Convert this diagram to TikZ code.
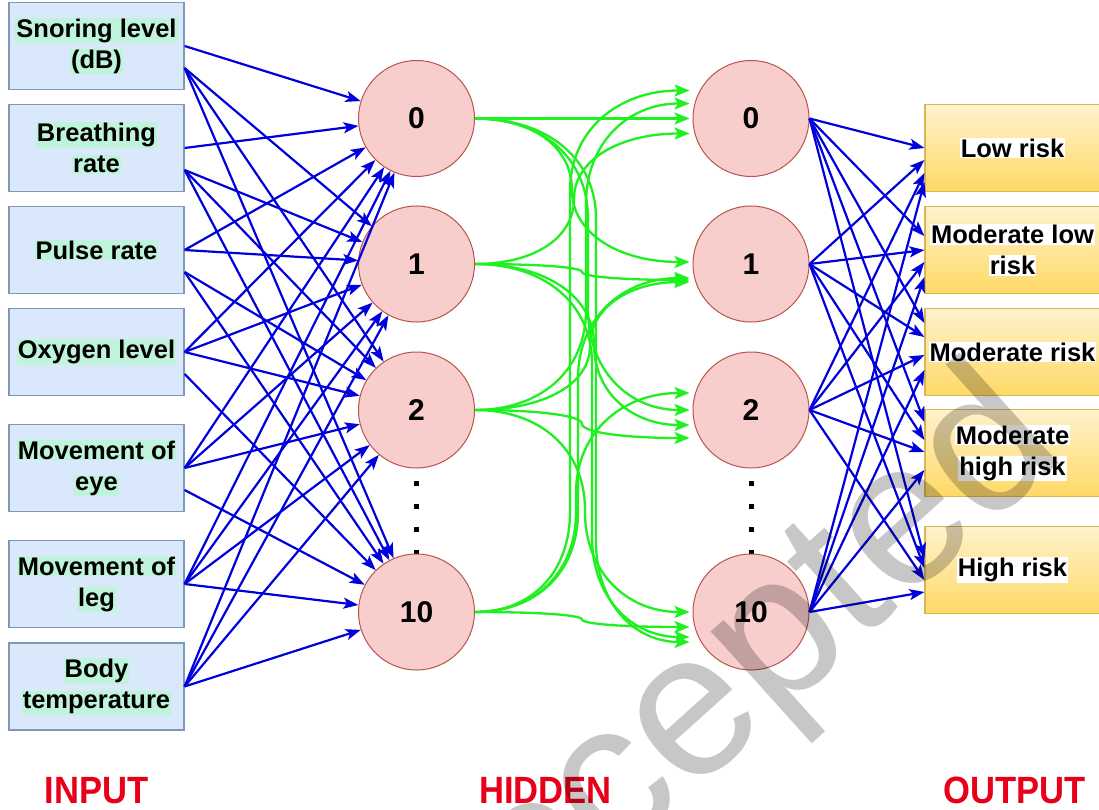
\documentclass[tikz,border=0pt]{standalone}
\usepackage{fontspec}
\setmainfont{Liberation Sans}
\usetikzlibrary{arrows.meta,calc}

\definecolor{inFill}{HTML}{DAE8FC}
\definecolor{inLine}{HTML}{7F97B8}
\definecolor{mintBg}{HTML}{BFF3DA}
\definecolor{nodeFill}{HTML}{F8CECC}
\definecolor{nodeLine}{HTML}{B85450}
\definecolor{outTop}{HTML}{FFF2CC}
\definecolor{outBot}{HTML}{FFD966}
\definecolor{outLine}{HTML}{D6B656}
\definecolor{linkBlue}{HTML}{0000DD}
\definecolor{linkGreen}{HTML}{1FF01F}
\definecolor{capRed}{HTML}{E8001A}

% highlighted label line
\newcommand\hlline[2]{{\setlength{\fboxsep}{1pt}\colorbox{#1}{#2}}}

\begin{document}
\begin{tikzpicture}[x=1pt,y=-1pt,
  inbox/.style={draw=inLine, fill=inFill, line width=1.2pt,
    minimum width=175pt, minimum height=87pt, inner sep=0pt, align=center,
    font=\fontsize{25.5}{31}\selectfont\bfseries},
  outbox/.style={draw=outLine, top color=outTop, bottom color=outBot, line width=1.2pt,
    minimum width=175pt, minimum height=87pt, inner sep=0pt, align=center,
    font=\fontsize{25.5}{31}\selectfont\bfseries},
  neuron/.style={circle, draw=nodeLine, fill=nodeFill, line width=1pt,
    minimum size=116pt, inner sep=0pt, font=\fontsize{30}{30}\selectfont\bfseries},
  vdot/.style={rectangle, fill=black, minimum size=5pt, inner sep=0pt},
  bluelink/.style={draw=linkBlue, line width=2.2pt,
    -{Stealth[length=15pt,width=11pt,inset=3.5pt]}},
  greenlink/.style={draw=linkGreen, line width=2.3pt,
    -{Stealth[length=15pt,width=12pt,inset=3.5pt]}},
  layername/.style={text=capRed, anchor=base, inner sep=0pt,
    font=\fontsize{38}{38}\selectfont\bfseries}
]
\useasboundingbox (0,0) rectangle (1099,810);
\fill[white] (0,0) rectangle (1099,810);

% input features
\node[inbox] (i1) at (96.5,46)    {\hlline{mintBg}{Snoring level}\\\hlline{mintBg}{(dB)}};
\node[inbox] (i2) at (96.5,148)   {\hlline{mintBg}{Breathing}\\\hlline{mintBg}{rate}};
\node[inbox] (i3) at (96.5,250)   {\hlline{mintBg}{Pulse rate}};
\node[inbox] (i4) at (96.5,352)   {\hlline{mintBg}{Oxygen level}};
\node[inbox] (i5) at (96.5,468)   {\hlline{mintBg}{Movement of}\\\hlline{mintBg}{eye}};
\node[inbox] (i6) at (96.5,584)   {\hlline{mintBg}{Movement of}\\\hlline{mintBg}{leg}};
\node[inbox] (i7) at (96.5,686.5) {\hlline{mintBg}{Body}\\\hlline{mintBg}{temperature}};

% output classes
\node[outbox] (o1) at (1012.5,148) {\hlline{white}{Low risk}};
\node[outbox] (o2) at (1012.5,250) {\hlline{white}{Moderate low}\\\hlline{white}{risk}};
\node[outbox] (o3) at (1012.5,352) {\hlline{white}{Moderate risk}};
\node[outbox] (o4) at (1012.5,453) {\hlline{white}{Moderate}\\\hlline{white}{high risk}};
\node[outbox] (o5) at (1012.5,570) {\hlline{white}{High risk}};

% ellipsis dots between neurons 2 and 10
\foreach \x/\n in {416.5/a,751/b}
  \foreach \y [count=\k] in {483,506,529,552}
    \node[vdot] (\n dot\k) at (\x,\y) {};

% hidden neurons
\node[neuron] (a0) at (416.5,118.5) {0};
\node[neuron] (a1) at (416.5,264)   {1};
\node[neuron] (a2) at (416.5,410)   {2};
\node[neuron] (a3) at (416.5,612)   {10};
\node[neuron] (b0) at (751,118.5) {0};
\node[neuron] (b1) at (751,264)   {1};
\node[neuron] (b2) at (751,410)   {2};
\node[neuron] (b3) at (751,612)   {10};

% input -> first hidden layer
\foreach \s/\sy in {i1/46,i2/148,i3/250,i4/352,i5/468,i6/584,i7/686.5}
  \foreach \t/\ty in {a0/118.5,a1/264,a2/410,a3/612}{
    \pgfmathsetmacro\off{(\ty>\sy+80)?22:0}
    \draw[bluelink] ($(\s.east)+(0,\off)$) -- (\t);
  }

% first hidden -> second hidden layer: rounded orthogonal curves
% (source / source y / target / target y / arrival offset / shift of the vertical run)
\foreach \s/\ya/\t/\yt/\dy/\xo in {
    a0/118.5/b0/118.5/0/0,   a1/264/b0/118.5/15/-8, a2/410/b0/118.5/-15/4, a3/612/b0/118.5/-28/-12,
    a0/118.5/b1/264/-2/-10,  a1/264/b1/264/16/0,    a2/410/b1/264/18/8,    a3/612/b1/264/14/-4,
    a0/118.5/b2/410/0/6,     a1/264/b2/410/15/12,   a2/410/b2/410/28/0,    a3/612/b2/410/-17/-6,
    a0/118.5/b3/612/30/14,   a1/264/b3/612/25/10,   a2/410/b3/612/0/3,     a3/612/b3/612/15/0}{
  \pgfmathsetmacro\yb{\yt+\dy}
  \pgfmathsetmacro\rr{min(abs(\yb-\ya)/2,100)}
  \pgfmathsetmacro\sg{(\yb<\ya)?-1:1}
  \pgfmathsetmacro\yp{\ya+\sg*\rr}
  \pgfmathsetmacro\yq{\yb-\sg*\rr}
  \pgfmathsetmacro\yc{\ya+0.4*\sg*\rr}
  \pgfmathsetmacro\yd{\yb-0.4*\sg*\rr}
  \pgfmathsetmacro\xm{582+\xo}
  \coordinate (gEnd) at ($(\t.west)+(-3,\dy)$);
  \draw[greenlink] (\s.east) .. controls ($(\s.east)!0.6!(\xm,\ya)$) and (\xm,\yc) .. (\xm,\yp)
    -- (\xm,\yq) .. controls (\xm,\yd) and ($(gEnd)!0.6!(\xm,\yb)$) .. (gEnd);
}

% second hidden layer -> outputs
\foreach \t/\da/\db/\dc/\dd in {o1/0/12/25/34,o2/-14/0/12/27,o3/-29/-15/3/18,
                                o4/-31/-13/-1/17,o5/-12/-2/10/22}{
  \draw[bluelink] (b0.east) -- ($(\t.west)+(0,\da)$);
  \draw[bluelink] (b1.east) -- ($(\t.west)+(0,\db)$);
  \draw[bluelink] (b2.east) -- ($(\t.west)+(0,\dc)$);
  \draw[bluelink] (b3.east) -- ($(\t.west)+(0,\dd)$);
}

% layer captions
\node[layername] (capIn)  at (96.5,803)  {\scalebox{0.91}[1]{INPUT}};
\node[layername] (capHid) at (545.5,803) {\scalebox{0.91}[1]{HIDDEN}};
\node[layername] (capOut) at (1014.5,803){\scalebox{0.91}[1]{OUTPUT}};

% stamp across the lower right
\begin{scope}
  \clip (0,0) rectangle (1099,810);
  \node[rotate=42, anchor=base, inner sep=0pt, text=black, text opacity=0.22,
        font=\fontsize{205}{205}\selectfont] (stamp) at (752,740) {Accepted};
\end{scope}
\end{tikzpicture}
\end{document}
